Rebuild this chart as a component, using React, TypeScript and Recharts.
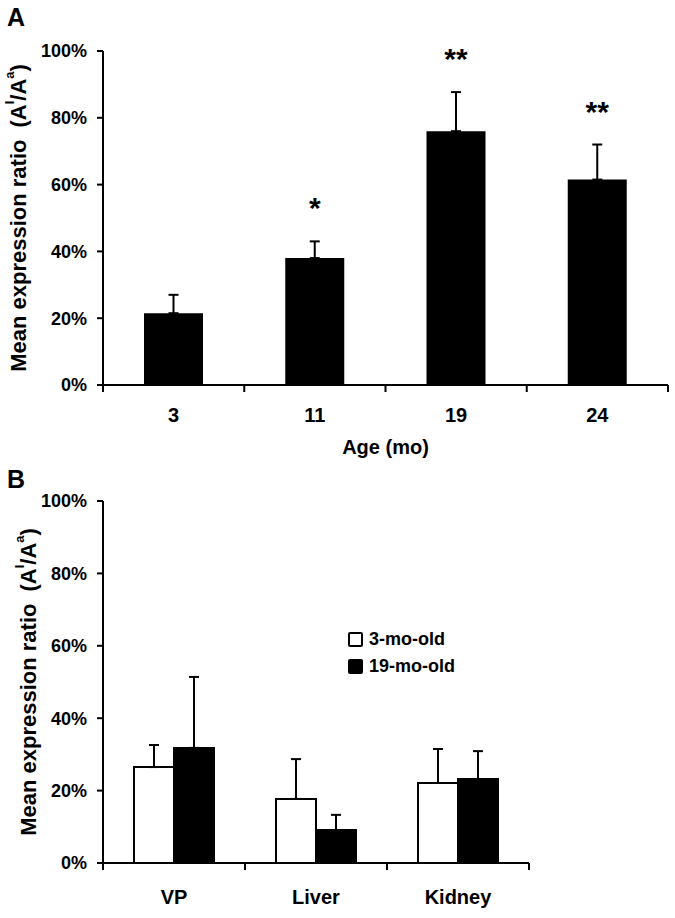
import React from 'react';
import { BarChart, Bar, XAxis, YAxis, ErrorBar, Legend, LabelList, Label } from 'recharts';

const ages = ['3', '11', '19', '24'];
const ageMeans = [21.5, 38, 76, 61.5];
const ageErrors = [5.5, 5, 11.7, 10.5];
const ageStars = ['', '*', '**', '**'];

const tissues = ['VP', 'Liver', 'Kidney'];
const youngMeans = [26.5, 17.7, 22.1];
const youngErrors = [6.1, 11, 9.4];
const oldMeans = [31.8, 9.1, 23.2];
const oldErrors = [19.6, 4.2, 7.7];

const yTicks = [0, 20, 40, 60, 80, 100];

const FONT = '"Liberation Sans", Arial, sans-serif';

const dataA = ages.map((age, i) => ({
  age,
  mean: ageMeans[i],
  err: [0, ageErrors[i]],
  star: ageStars[i],
}));

const dataB = tissues.map((t, i) => ({
  tissue: t,
  young: youngMeans[i],
  youngErr: [0, youngErrors[i]],
  old: oldMeans[i],
  oldErr: [0, oldErrors[i]],
}));

const W = 675;
const LEFT = 103;

const makeXTick = (halfBand: number, lastLabel: string, dyText: number) => (props: any) => {
  const { x, y, payload } = props;
  return (
    <g>
      <line x1={x - halfBand} x2={x - halfBand} y1={y} y2={y + 7} stroke="#000" strokeWidth={2} />
      {payload.value === lastLabel && (
        <line x1={x + halfBand} x2={x + halfBand} y1={y} y2={y + 7} stroke="#000" strokeWidth={2} />
      )}
      <text x={x} y={y + dyText} textAnchor="middle" fontFamily={FONT} fontWeight="bold" fontSize={20} fill="#000">
        {payload.value}
      </text>
    </g>
  );
};

const makeYLabel = (cx: number) => (props: any) => {
  const { viewBox } = props;
  const cy = viewBox.y + viewBox.height / 2;
  return (
    <text
      x={cx}
      y={cy}
      transform={`rotate(-90, ${cx}, ${cy})`}
      textAnchor="middle"
      dominantBaseline="central"
      fontFamily={FONT}
      fontWeight="bold"
      fontSize={22}
      fill="#000"
    >
      <tspan>Mean expression ratio</tspan>
      <tspan dx={12}>(A</tspan>
      <tspan fontSize={13} dy={-9}>I</tspan>
      <tspan dy={9}>/A</tspan>
      <tspan fontSize={13} dy={-9}>a</tspan>
      <tspan dy={9}>)</tspan>
    </text>
  );
};

const yTickStyle = { fontFamily: FONT, fontWeight: 'bold' as const, fontSize: 18, fill: '#000' };

const StarLabel = (props: any) => {
  const { x, width, y, height, index } = props;
  const star = ageStars[index];
  if (!star) return null;
  const pxPerUnit = height / ageMeans[index];
  const errTop = y - ageErrors[index] * pxPerUnit;
  return (
    <text x={x + width / 2} y={errTop - 23} textAnchor="middle" fontFamily={FONT} fontWeight="bold" fontSize={30} fill="#000">
      {star}
    </text>
  );
};

const LegendBox = () => (
  <div style={{ fontFamily: FONT, fontWeight: 'bold', fontSize: 18, color: '#000' }}>
    {[
      { name: '3-mo-old', fill: '#fff' },
      { name: '19-mo-old', fill: '#000' },
    ].map((item) => (
      <div key={item.name} style={{ display: 'flex', alignItems: 'center', height: 27 }}>
        <span
          style={{
            display: 'inline-block',
            width: 11,
            height: 11,
            border: '2px solid #000',
            borderRadius: 2,
            background: item.fill,
            marginRight: 6,
          }}
        />
        {item.name}
      </div>
    ))}
  </div>
);

export default function App() {
  const halfA = (W - LEFT - 7) / ages.length / 2;
  const halfB = (W - LEFT - 146) / tissues.length / 2;
  return (
    <div style={{ position: 'absolute', left: 0, top: 0, width: W, height: 918, background: '#fff' }}>
      <div style={{ position: 'absolute', left: 7, top: 3, fontFamily: FONT, fontWeight: 'bold', fontSize: 25 }}>A</div>
      <div style={{ position: 'absolute', left: 7, top: 465, fontFamily: FONT, fontWeight: 'bold', fontSize: 25 }}>B</div>

      <div style={{ position: 'absolute', left: 0, top: 0 }}>
        <BarChart width={W} height={465} data={dataA} margin={{ top: 51, right: 7, bottom: 0, left: 43 }}>
          <XAxis
            dataKey="age"
            height={80}
            axisLine={{ stroke: '#000', strokeWidth: 2 }}
            tickLine={false}
            tickSize={0}
            tickMargin={0}
            tick={makeXTick(halfA, ages[ages.length - 1], 37)}
            interval={0}
          >
            <Label
              content={(p: any) => (
                <text
                  x={p.viewBox.x + p.viewBox.width / 2}
                  y={p.viewBox.y + 69}
                  textAnchor="middle"
                  fontFamily={FONT}
                  fontWeight="bold"
                  fontSize={20}
                  fill="#000"
                >
                  Age (mo)
                </text>
              )}
            />
          </XAxis>
          <YAxis
            width={60}
            domain={[0, 100]}
            ticks={yTicks}
            tickFormatter={(v) => `${v}%`}
            axisLine={{ stroke: '#000', strokeWidth: 2 }}
            tickLine={{ stroke: '#000', strokeWidth: 2 }}
            tickSize={6}
            tickMargin={10}
            tick={yTickStyle}
            interval={0}
          >
            <Label content={makeYLabel(18)} />
          </YAxis>
          <Bar dataKey="mean" fill="#000" barSize={59} isAnimationActive={false}>
            <ErrorBar dataKey="err" width={5} stroke="#000" strokeWidth={2} direction="y" />
            <LabelList dataKey="star" content={StarLabel} />
          </Bar>
        </BarChart>
      </div>

      <div style={{ position: 'absolute', left: 0, top: 440 }}>
        <BarChart width={W} height={478} data={dataB} margin={{ top: 61, right: 146, bottom: 0, left: 43 }} barGap={0}>
          <XAxis
            dataKey="tissue"
            height={55}
            axisLine={{ stroke: '#000', strokeWidth: 2 }}
            tickLine={false}
            tickSize={0}
            tickMargin={0}
            tick={makeXTick(halfB, tissues[tissues.length - 1], 41)}
            interval={0}
          />
          <YAxis
            width={60}
            domain={[0, 100]}
            ticks={yTicks}
            tickFormatter={(v) => `${v}%`}
            axisLine={{ stroke: '#000', strokeWidth: 2 }}
            tickLine={{ stroke: '#000', strokeWidth: 2 }}
            tickSize={6}
            tickMargin={10}
            tick={yTickStyle}
            interval={0}
          >
            <Label content={makeYLabel(28)} />
          </YAxis>
          <Legend
            layout="vertical"
            align="center"
            verticalAlign="middle"
            content={<LegendBox />}
            wrapperStyle={{ position: 'absolute', left: 348, top: 186, width: 'auto' }}
          />
          <Bar dataKey="young" fill="#fff" stroke="#000" strokeWidth={2} barSize={40} isAnimationActive={false}>
            <ErrorBar dataKey="youngErr" width={5} stroke="#000" strokeWidth={2} direction="y" />
          </Bar>
          <Bar dataKey="old" fill="#000" stroke="#000" strokeWidth={2} barSize={40} isAnimationActive={false}>
            <ErrorBar dataKey="oldErr" width={5} stroke="#000" strokeWidth={2} direction="y" />
          </Bar>
        </BarChart>
      </div>
    </div>
  );
}
